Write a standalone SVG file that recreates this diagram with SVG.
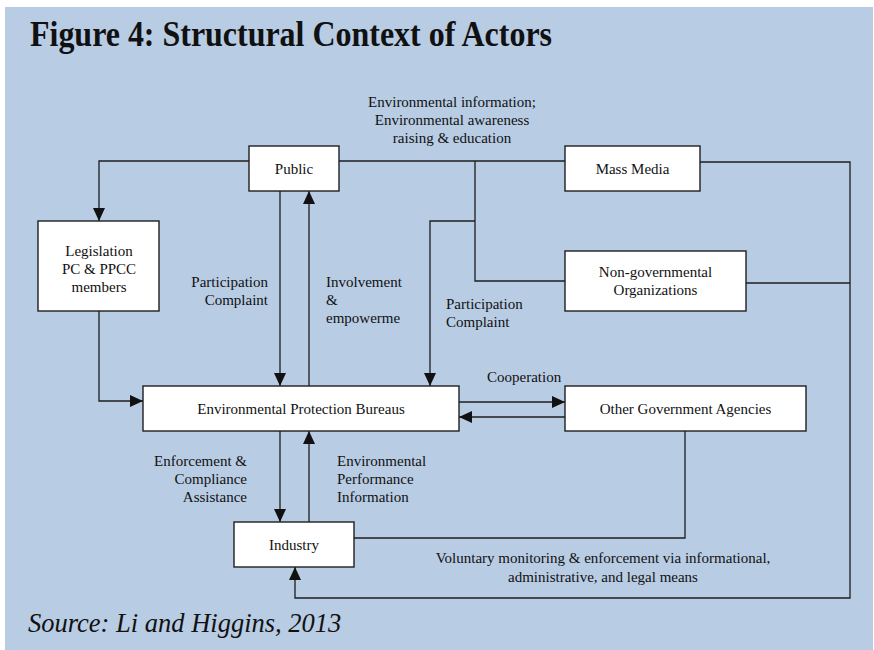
<svg xmlns="http://www.w3.org/2000/svg" width="874" height="650" viewBox="0 0 874 650">
  <defs>
    <style>
      .bg { fill: #b8cce4; }
      .box { fill: #ffffff; stroke: #1e1e1e; stroke-width: 1.4; }
      .wire { fill: none; stroke: #1e1e1e; stroke-width: 1.3; }
      .arrow { marker-end: url(#head); }
      text { font-family: "Liberation Serif", "Times New Roman", serif; fill: #111111; }
      .lbl { font-size: 15px; }
      .mid { text-anchor: middle; }
      .end { text-anchor: end; }
      .title { font-size: 35px; font-weight: bold; }
      .source { font-size: 26.5px; font-style: italic; }
    </style>
    <marker id="head" markerUnits="userSpaceOnUse" markerWidth="14" markerHeight="12" viewBox="0 0 14 12" refX="13" refY="6" orient="auto">
      <path d="M0,0 L13,6 L0,12 Z" fill="#111111"/>
    </marker>
  </defs>

  <!-- panel -->
  <rect class="bg" x="5" y="7" width="868" height="643"/>
  <text class="title" x="30" y="46" textLength="522" lengthAdjust="spacingAndGlyphs">Figure 4: Structural Context of Actors</text>

  <!-- connectors -->
  <g id="connectors">
    <path class="wire arrow" d="M249,161 H99 V221"/>
    <path class="wire" d="M339,161 H565"/>
    <path class="wire" d="M475,161 V281 H565"/>
    <path class="wire arrow" d="M475,221 H430 V386"/>
    <path class="wire arrow" d="M700,162 H850 V598 H295 V567"/>
    <path class="wire" d="M746,283 H850"/>
    <path class="wire arrow" d="M280,191 V386"/>
    <path class="wire arrow" d="M309,386 V191"/>
    <path class="wire arrow" d="M99,311 V401 H143"/>
    <path class="wire arrow" d="M459,402 H565"/>
    <path class="wire arrow" d="M565,417 H459"/>
    <path class="wire arrow" d="M280,431 V522"/>
    <path class="wire arrow" d="M309,522 V431"/>
    <path class="wire" d="M354,538 H685 V431"/>
  </g>

  <!-- connector labels -->
  <g id="labels" class="lbl">
    <text class="lbl mid" x="452" y="107">Environmental information;</text>
    <text class="lbl mid" x="452" y="125">Environmental awareness</text>
    <text class="lbl mid" x="452" y="143">raising &amp; education</text>

    <text class="lbl end" x="268" y="287">Participation</text>
    <text class="lbl end" x="268" y="305">Complaint</text>

    <text class="lbl" x="326" y="287">Involvement</text>
    <text class="lbl" x="326" y="305">&amp;</text>
    <text class="lbl" x="326" y="323">empowerme</text>

    <text class="lbl" x="446" y="309">Participation</text>
    <text class="lbl" x="446" y="327">Complaint</text>

    <text class="lbl" x="487" y="382">Cooperation</text>

    <text class="lbl end" x="247" y="466">Enforcement &amp;</text>
    <text class="lbl end" x="247" y="484">Compliance</text>
    <text class="lbl end" x="247" y="502">Assistance</text>

    <text class="lbl" x="337" y="466">Environmental</text>
    <text class="lbl" x="337" y="484">Performance</text>
    <text class="lbl" x="337" y="502">Information</text>

    <text class="lbl mid" x="603" y="563">Voluntary monitoring &amp; enforcement via informational,</text>
    <text class="lbl mid" x="603" y="582">administrative, and legal means</text>
  </g>

  <!-- nodes -->
  <g id="public">
    <rect class="box" x="249" y="146" width="90" height="45"/>
    <text class="lbl mid" x="294" y="174">Public</text>
  </g>
  <g id="mass-media">
    <rect class="box" x="565" y="146" width="135" height="45"/>
    <text class="lbl mid" x="632.5" y="174">Mass Media</text>
  </g>
  <g id="ngo">
    <rect class="box" x="565" y="251" width="181" height="60"/>
    <text class="lbl mid" x="655.5" y="277">Non-governmental</text>
    <text class="lbl mid" x="655.5" y="295">Organizations</text>
  </g>
  <g id="legislation">
    <rect class="box" x="38" y="221" width="121" height="90"/>
    <text class="lbl mid" x="99" y="256">Legislation</text>
    <text class="lbl mid" x="99" y="274">PC &amp; PPCC</text>
    <text class="lbl mid" x="99" y="292">members</text>
  </g>
  <g id="epb">
    <rect class="box" x="143" y="386" width="316" height="45"/>
    <text class="lbl mid" x="301" y="414">Environmental Protection Bureaus</text>
  </g>
  <g id="other-agencies">
    <rect class="box" x="565" y="386" width="241" height="45"/>
    <text class="lbl mid" x="685.5" y="414">Other Government Agencies</text>
  </g>
  <g id="industry">
    <rect class="box" x="234" y="522" width="120" height="45"/>
    <text class="lbl mid" x="294" y="550">Industry</text>
  </g>

  <text class="source" x="28" y="632">Source: Li and Higgins, 2013</text>
</svg>
